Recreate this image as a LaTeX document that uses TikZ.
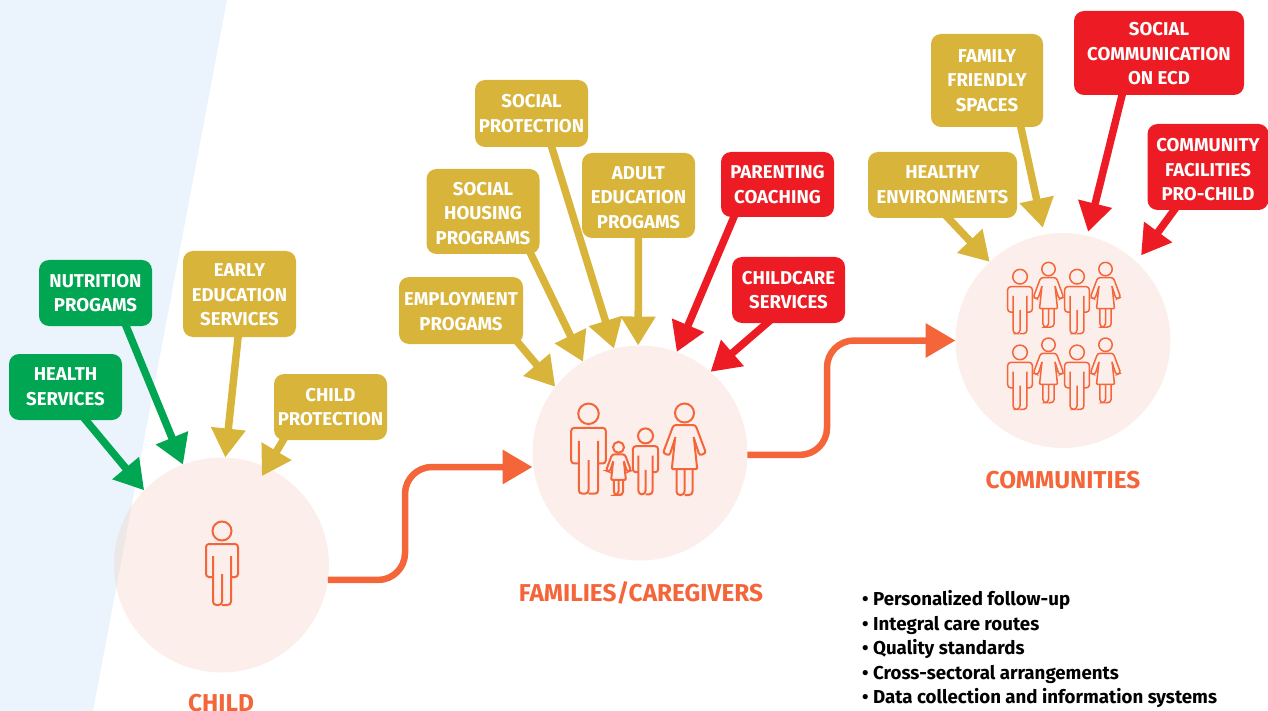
\documentclass[tikz,border=0pt]{standalone}
\usepackage{fontspec}
\setmainfont{Fira Sans}
\usetikzlibrary{arrows.meta,backgrounds}
\definecolor{skyback}{HTML}{EBF4FC}
\definecolor{blush}{HTML}{FCEEEB}
\definecolor{blushgrey}{HTML}{ECE8E8}
\definecolor{coral}{HTML}{F4663A}
\definecolor{leaf}{HTML}{00A651}
\definecolor{gold}{HTML}{D9B43A}
\definecolor{scarlet}{HTML}{ED1C24}
\newcommand{\topgap}[1]{\rule{0pt}{#1pt}}
\tikzset{
  tagbox/.style={rounded corners=10pt,text=white,align=center,font=\bfseries\fontsize{18.6}{24.6}\selectfont,anchor=center},
  hub/.style={circle,fill=blush,minimum size=215pt,inner sep=0pt,outer sep=0pt},
  hubtitle/.style={text=coral,font=\bfseries\fontsize{24.4}{28}\selectfont},
  feed/.style={line width=7.5pt,-{Triangle[length=29pt,width=33pt]}},
  link/.style={coral,line width=6.5pt,rounded corners=27pt,-{Triangle[length=30pt,width=33pt]}},
  manicon/.pic={
    \draw (0,10) circle[radius=9.5];
    \draw[rounded corners=3pt] (-9,56) -- (-16,56) -- (-16,23) -- (16,23) -- (16,56) -- (9,56);
    \draw[rounded corners=3.5pt] (-9,35) -- (-9,84) -- (0,84) -- (0,53);
    \draw[rounded corners=3.5pt] (9,35) -- (9,84) -- (0,84);
  },
  womanicon/.pic={
    \draw (0,10) circle[radius=9.5];
    \draw[rounded corners=2.5pt] (-9,34) -- (-15,52.5) -- (-21.5,50) -- (-11,22) -- (11,22) -- (21.5,50) -- (15,52.5) -- (9,34);
    \draw[rounded corners=1pt] (-9.5,36) -- (-12.7,66) -- (12.7,66) -- (9.5,36);
    \draw[rounded corners=3.5pt] (-8,66) -- (-8,92) -- (0,92) -- (0,66);
    \draw[rounded corners=3.5pt] (8,66) -- (8,92) -- (0,92);
  }
}
\begin{document}
\begin{tikzpicture}[x=1pt,y=-1pt]
\useasboundingbox (0,0) rectangle (1268,711);
\begin{scope}[on background layer]
\fill[skyback] (0,0) -- (227,0) -- (93,711) -- (0,711) -- cycle;
\node[hub] (child) at (221.5,565) {};
\node[hub] (family) at (640,453) {};
\node[hub] (commun) at (1063,340.5) {};
\begin{scope}
\clip (0,0) -- (227,0) -- (93,711) -- (0,711) -- cycle;
\fill[blushgrey] (child) circle[radius=107.5];
\end{scope}
\end{scope}
% boxes around the child
\node[tagbox,fill=leaf,minimum width=113pt,minimum height=66pt] (health) at (65.5,387) {HEALTH\\SERVICES};
\node[tagbox,fill=leaf,minimum width=113pt,minimum height=66pt] (nutrition) at (95.5,293) {NUTRITION\\PROGAMS};
\node[tagbox,fill=gold,minimum width=113pt,minimum height=86pt] (early) at (239.5,294) {\topgap{15}EARLY\\EDUCATION\\SERVICES};
\node[tagbox,fill=gold,minimum width=113pt,minimum height=66pt] (protect) at (330.5,407) {CHILD\\PROTECTION};
% boxes around the family
\node[tagbox,fill=gold,minimum width=124pt,minimum height=67pt] (employ) at (461,310.5) {\topgap{15}EMPLOYMENT\\PROGAMS};
\node[tagbox,fill=gold,minimum width=113pt,minimum height=85pt] (housing) at (483,211.5) {\topgap{17}SOCIAL\\HOUSING\\PROGRAMS};
\node[tagbox,fill=gold,minimum width=113pt,minimum height=67pt] (socprot) at (531.5,113.5) {SOCIAL\\PROTECTION};
\node[tagbox,fill=gold,minimum width=113pt,minimum height=85pt] (adult) at (638.5,195.5) {\topgap{17}ADULT\\EDUCATION\\PROGAMS};
\node[tagbox,fill=scarlet,minimum width=113pt,minimum height=65pt] (parent) at (777.5,184.5) {PARENTING\\COACHING};
\node[tagbox,fill=scarlet,minimum width=113pt,minimum height=66pt] (care) at (788.5,290) {CHILDCARE\\SERVICES};
% boxes around the community
\node[tagbox,fill=gold,minimum width=149pt,minimum height=66pt] (healthy) at (942.5,185) {HEALTHY\\ENVIRONMENTS};
\node[tagbox,fill=gold,minimum width=112pt,minimum height=93pt] (friendly) at (987,80.5) {FAMILY\\FRIENDLY\\SPACES};
\node[tagbox,fill=scarlet,minimum width=170pt,minimum height=84pt] (social) at (1159,53) {\topgap{15}SOCIAL\\COMMUNICATION\\ON ECD};
\node[tagbox,fill=scarlet,minimum width=121pt,minimum height=86pt] (facility) at (1208,167) {\topgap{19}COMMUNITY\\FACILITIES\\PRO-CHILD};
\begin{scope}[on background layer]
\draw[feed,leaf] ([xshift=17pt,yshift=4pt]health.south) -- (child.136);
\draw[feed,leaf] ([xshift=29pt,yshift=4pt]nutrition.south) -- (child.111);
\draw[feed,gold] ([xshift=-1pt,yshift=4pt]early.south) -- (child.88);
\draw[feed,gold,shorten >=-10pt] ([xshift=-45pt,yshift=4pt]protect.south) -- (child.65.5);
\draw[feed,gold] ([xshift=55pt,yshift=4pt]employ.south) -- (family.142);
\draw[feed,gold] ([xshift=46pt,yshift=4pt]housing.south) -- (family.122);
\draw[feed,gold] ([xshift=19pt,yshift=4pt]socprot.south) -- (family.104);
\draw[feed,gold] ([xshift=0pt,yshift=4pt]adult.south) -- (family.91);
\draw[feed,scarlet] ([xshift=-42pt,yshift=4pt]parent.south) -- (family.70);
\draw[feed,scarlet] ([xshift=-17pt,yshift=4pt]care.south) -- (family.49);
\draw[feed,gold] ([xshift=2pt,yshift=4pt]healthy.south) -- (commun.133);
\draw[feed,gold,shorten >=7pt] ([xshift=33pt,yshift=4pt]friendly.south) -- (commun.100);
\draw[feed,scarlet,shorten >=4pt] ([xshift=-36pt,yshift=4pt]social.south) -- (commun.77.5);
\draw[feed,scarlet,shorten >=8pt] ([xshift=-31pt,yshift=4pt]facility.south) -- (commun.47);
\end{scope}
% links between the circles
\coordinate (bendone) at (405,467);
\coordinate (bendtwo) at (827,340.5);
\draw[link] (child.-8.6) -| (bendone) -- (bendone -| family.west);
\draw[link] (family.-1) -| (bendtwo) -- (commun.west);
% people
\begin{scope}[coral,line width=2pt]
\pic at (222,521) {manicon};
\pic[scale=1.08] at (588.5,403) {manicon};
\pic[scale=.58] at (618.5,441.5) {womanicon};
\pic[scale=.79] at (645.5,428) {manicon};
\pic at (684.5,403) {womanicon};
\end{scope}
\begin{scope}[coral,line width=1.5pt]
\foreach \rowy in {0,75.7}{
  \pic[scale=.77] at (1020,269+\rowy) {manicon};
  \pic[scale=.707] at (1048.5,262+\rowy) {womanicon};
  \pic[scale=.77] at (1077,269+\rowy) {manicon};
  \pic[scale=.707] at (1105.5,262+\rowy) {womanicon};
}
\end{scope}
% titles
\node[hubtitle] (childname) at (221,703.5) {CHILD};
\node[hubtitle] (familyname) at (641,593) {FAMILIES/CAREGIVERS};
\node[hubtitle] (communname) at (1063,480) {COMMUNITIES};
\node[anchor=west,align=left,inner sep=0pt,font=\bfseries\fontsize{18.7}{24.5}\selectfont] (checklist) at (862,649) {• Personalized follow-up\\• Integral care routes\\• Quality standards\\• Cross-sectoral arrangements\\• Data collection and information systems};
\end{tikzpicture}
\end{document}
